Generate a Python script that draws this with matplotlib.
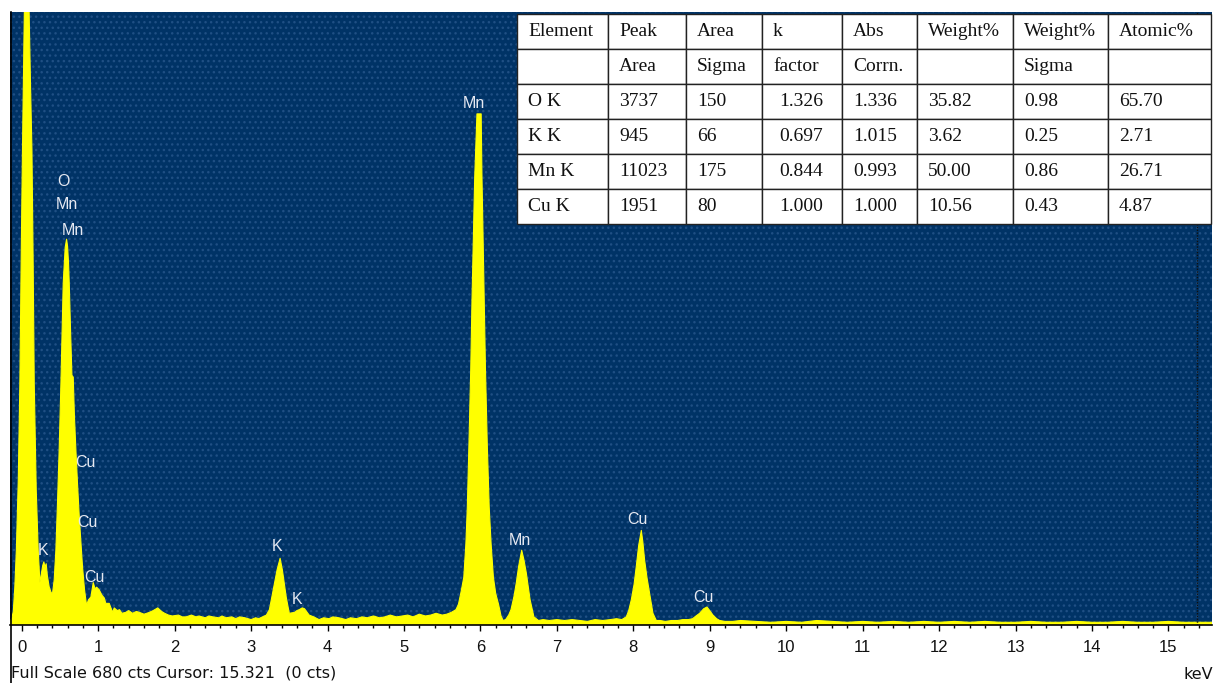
import matplotlib
matplotlib.use("Agg")
import matplotlib.pyplot as plt
from matplotlib.patches import Rectangle
from matplotlib.lines import Line2D
from matplotlib.ticker import MultipleLocator

# ---------------- data ----------------
energy_kev = [
    -0.16, -0.13, -0.11, -0.09, -0.07, -0.045, -0.024, -0.005, 0.01, 0.035,
    0.065, 0.095, 0.115, 0.134, 0.15, 0.164, 0.19, 0.216, 0.238, 0.255,
    0.275, 0.29, 0.305, 0.32, 0.335, 0.36, 0.385, 0.403, 0.425, 0.447,
    0.47, 0.49, 0.513, 0.543, 0.569, 0.587, 0.60, 0.613, 0.622, 0.64,
    0.657, 0.665, 0.674, 0.69, 0.709, 0.73, 0.753, 0.775, 0.796, 0.822,
    0.848, 0.874, 0.905, 0.936, 0.96, 0.98, 1.014, 1.05, 1.08, 1.10,
    1.145, 1.19, 1.21, 1.25, 1.28, 1.31, 1.36, 1.40, 1.45, 1.50,
    1.54, 1.60, 1.67, 1.72, 1.78, 1.83, 1.87, 1.92, 1.97, 2.05,
    2.10, 2.15, 2.22, 2.28, 2.32, 2.40, 2.45, 2.50, 2.58, 2.62,
    2.67, 2.75, 2.80, 2.85, 2.92, 3.00, 3.06, 3.10, 3.15, 3.20,
    3.24, 3.29, 3.34, 3.38, 3.41, 3.46, 3.50, 3.57, 3.60, 3.63,
    3.67, 3.70, 3.76, 3.82, 3.89, 3.95, 4.02, 4.07, 4.15, 4.24,
    4.30, 4.38, 4.45, 4.52, 4.60, 4.68, 4.75, 4.82, 4.90, 4.98,
    5.05, 5.12, 5.20, 5.28, 5.35, 5.42, 5.50, 5.56, 5.62, 5.68,
    5.713, 5.75, 5.783, 5.81, 5.829, 5.85, 5.874, 5.89, 5.91, 5.925,
    5.942, 5.955, 5.983, 6.01, 6.02, 6.033, 6.05, 6.066, 6.09, 6.115,
    6.14, 6.17, 6.20, 6.237, 6.27, 6.297, 6.33, 6.37, 6.40, 6.44,
    6.47, 6.50, 6.54, 6.57, 6.60, 6.63, 6.65, 6.70, 6.76, 6.82,
    6.90, 7.00, 7.10, 7.20, 7.30, 7.40, 7.50, 7.60, 7.70, 7.78,
    7.85, 7.908, 7.94, 7.974, 8.01, 8.039, 8.07, 8.105, 8.125, 8.148,
    8.18, 8.213, 8.257, 8.301, 8.35, 8.42, 8.50, 8.58, 8.65, 8.72,
    8.776, 8.82, 8.868, 8.92, 8.964, 9.00, 9.042, 9.09, 9.13, 9.20,
    9.30, 9.40, 9.60, 9.80, 10.0, 10.2, 10.4, 10.6, 10.8, 11.0,
    11.2, 11.4, 11.6, 11.8, 12.0, 12.2, 12.4, 12.6, 12.8, 13.0,
    13.2, 13.4, 13.6, 13.8, 14.0, 14.2, 14.4, 14.6, 14.8, 15.0,
    15.2, 15.4, 15.6,
]
counts = [
    4, 7, 15, 42, 83, 160, 268, 420, 527, 690,
    760, 690, 600, 527, 400, 268, 150, 83, 47, 56,
    66, 70, 64, 68, 55, 42, 36, 35, 50, 83,
    140, 194, 268, 379, 419, 428, 420, 401, 379, 324,
    277, 276, 275, 231, 194, 157, 120, 91, 64, 39,
    22, 28, 31, 47, 40, 42, 39, 33, 30, 24,
    24, 14, 19, 16, 17, 13, 14, 16, 13, 15,
    14, 12, 14, 16, 19, 15, 13, 11, 10, 11,
    9, 9, 11, 9, 10, 8, 10, 9, 8, 10,
    8, 9, 7, 9, 8, 6, 8, 7, 9, 11,
    17, 39, 61, 74, 61, 31, 13, 14, 16, 17,
    19, 18, 11, 9, 6, 8, 7, 9, 8, 6,
    8, 7, 9, 8, 10, 8, 9, 11, 9, 10,
    11, 9, 12, 10, 11, 13, 11, 12, 14, 17,
    23, 38, 53, 90, 131, 200, 285, 360, 439, 495,
    536, 567, 567, 567, 500, 439, 360, 285, 200, 131,
    90, 53, 35, 23, 10, 5, 6, 11, 17, 32,
    47, 65, 83, 72, 58, 40, 28, 9, 5, 6,
    5, 6, 5, 6, 5, 4, 6, 5, 6, 7,
    6, 9, 16, 28, 45, 65, 88, 105, 92, 72,
    52, 35, 13, 5, 5, 4, 5, 5, 6, 6,
    7, 10, 13, 18, 20, 16, 11, 7, 5, 4,
    4, 5, 4, 3, 4, 3, 5, 4, 3, 4,
    3, 4, 3, 4, 3, 4, 3, 4, 3, 3,
    4, 3, 3, 4, 3, 3, 4, 3, 3, 4,
    3, 3, 3,
]

peak_labels = ["O", "Mn", "Mn", "Cu", "Cu", "K", "Cu", "Mn", "K", "K", "Mn", "Cu", "Cu"]
label_kev = [0.55, 0.595, 0.675, 0.84, 0.86, 0.28, 0.95, 5.92, 3.34, 3.60, 6.51, 8.06, 8.92]
label_cts = [492, 466, 438, 180, 114, 83, 53, 579, 87, 28, 94, 117, 31]

table_header_1 = ["Element", "Peak", "Area", "k", "Abs", "Weight%", "Weight%", "Atomic%"]
table_header_2 = ["", "Area", "Sigma", "factor", "Corrn.", "", "Sigma", ""]
elements = ["O K", "K K", "Mn K", "Cu K"]
peak_area = ["3737", "945", "11023", "1951"]
area_sigma = ["150", "66", "175", "80"]
k_factor = ["1.326", "0.697", "0.844", "1.000"]
abs_corrn = ["1.336", "1.015", "0.993", "1.000"]
weight_pct = ["35.82", "3.62", "50.00", "10.56"]
weight_sigma = ["0.98", "0.25", "0.86", "0.43"]
atomic_pct = ["65.70", "2.71", "26.71", "4.87"]

full_scale_cts = 680
cursor_kev = 15.321
cursor_cts = 0
cursor_line_kev = 15.37

# ---------------- figure ----------------
W, H = 1214, 683
fig = plt.figure(figsize=(W / 100, H / 100), dpi=100)
fig.patch.set_facecolor("white")

ax_left, ax_right, ax_top, ax_bottom = 10, 1212, 12, 625
ax = fig.add_axes([ax_left / W, (H - ax_bottom) / H,
                   (ax_right - ax_left) / W, (ax_bottom - ax_top) / H])
ax.set_facecolor("#003366")

# dotted screen pattern of the background
ax.add_patch(Rectangle((0, 0), 1, 1, transform=ax.transAxes, facecolor="none",
                       edgecolor="#1f4f84", hatch="...", lw=0, zorder=0.5))

ax.fill_between(energy_kev, counts, 0, color="#ffff00", lw=0, zorder=2)
ax.plot(energy_kev, counts, color="#ffff00", lw=0.8, zorder=2)

ax.axvline(cursor_line_kev, color="#101010", lw=1, ls=(0, (1, 1)), zorder=3)

ax.set_xlim((ax_left - 21.7) / 76.45, (ax_right - 21.7) / 76.45)
ax.set_ylim(0, full_scale_cts)

for lab, xk, yc in zip(peak_labels, label_kev, label_cts):
    ax.text(xk, yc, lab, color="#e6e9f2", fontsize=11.5, family="Liberation Sans",
            ha="center", va="center", zorder=4)

ax.set_xticks(range(0, 16))
ax.xaxis.set_minor_locator(MultipleLocator(0.2))
ax.tick_params(axis="x", which="major", length=4.5, width=1, color="black",
               pad=6, labelsize=12, labelcolor="#111111")
ax.tick_params(axis="x", which="minor", length=2.5, width=1, color="black")
for lbl in ax.get_xticklabels():
    lbl.set_family("Liberation Sans")
ax.set_yticks([])
for s in ["top", "right"]:
    ax.spines[s].set_visible(False)
ax.spines["bottom"].set_color("black")
ax.spines["bottom"].set_linewidth(1.2)
ax.spines["left"].set_visible(False)

# ---------------- quantification table ----------------
rows = [table_header_1, table_header_2]
for i in range(len(elements)):
    rows.append([elements[i], peak_area[i], area_sigma[i], k_factor[i],
                 abs_corrn[i], weight_pct[i], weight_sigma[i], atomic_pct[i]])
col_px = [91, 78, 76, 80, 75, 96, 95, 103]
tab_x0, tab_y0, tab_y1 = 517, 14, 224
tab_w = sum(col_px)
x0 = (tab_x0 - ax_left) / (ax_right - ax_left)
w = tab_w / (ax_right - ax_left)
y_top = (ax_bottom - tab_y0) / (ax_bottom - ax_top)
y_bot = (ax_bottom - tab_y1) / (ax_bottom - ax_top)
tbl = ax.table(cellText=rows, colWidths=[c / tab_w for c in col_px],
               cellLoc="left", bbox=[x0, y_bot, w, y_top - y_bot], zorder=6)
tbl.auto_set_font_size(False)
tbl.set_fontsize(14)
for (r, c), cell in tbl.get_celld().items():
    cell.set_facecolor("white")
    cell.set_edgecolor("#222222")
    cell.set_linewidth(1.0)
    cell.get_text().set_family("Liberation Serif")
    cell.get_text().set_color("#111111")
    cell.PAD = 11 / col_px[c]
    if c == 3 and r >= 2:
        cell._loc = "right"
        cell.PAD = 17 / col_px[c]

# ---------------- footer ----------------
fig.add_artist(Line2D([10.5 / W, 10.5 / W], [0, (H - ax_top) / H], color="black", lw=1.2))
fig.text(11 / W, (H - 678) / H,
         f"Full Scale {full_scale_cts} cts Cursor: {cursor_kev:.3f}  ({cursor_cts} cts)",
         fontsize=11.5, family="DejaVu Sans", color="#111111", ha="left", va="baseline")
fig.text(1213 / W, (H - 679) / H, "keV", fontsize=11.5, family="DejaVu Sans",
         color="#111111", ha="right", va="baseline")

fig.savefig("out.png", dpi=100)
